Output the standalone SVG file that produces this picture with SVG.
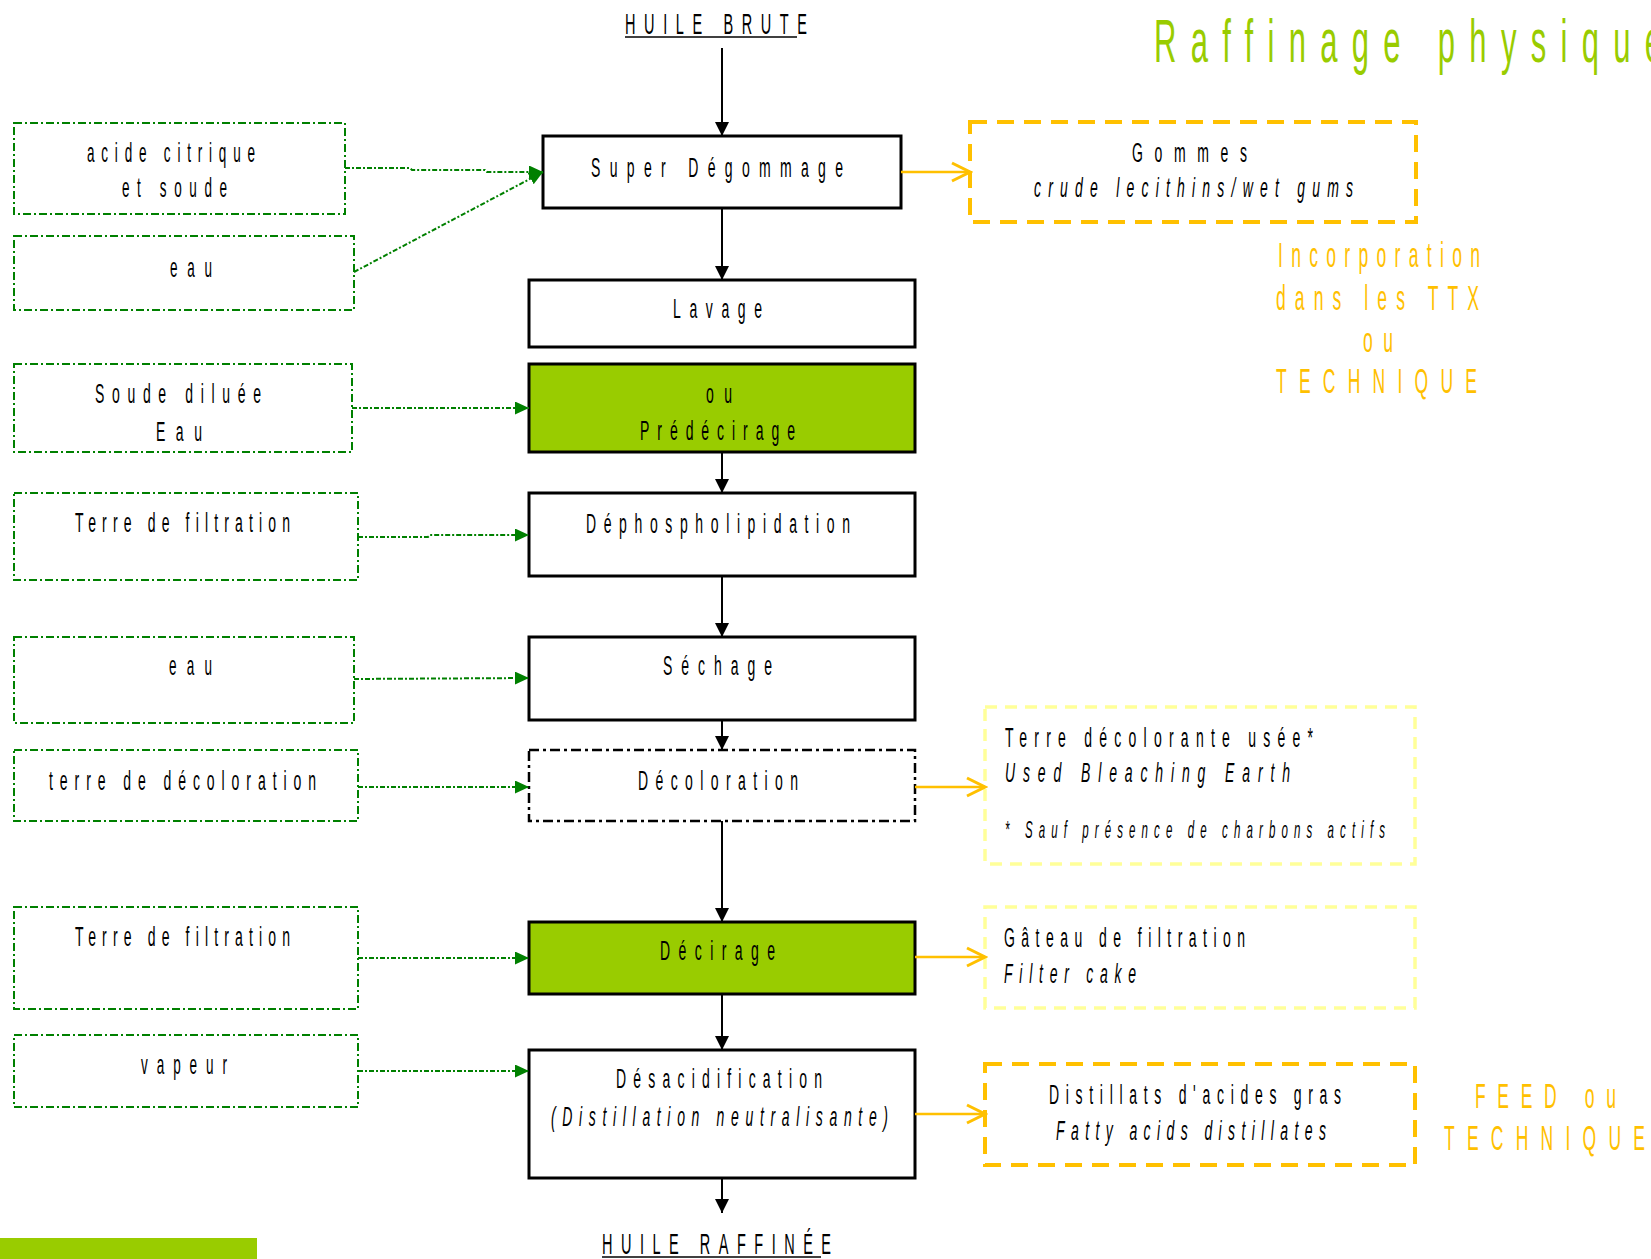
<svg xmlns="http://www.w3.org/2000/svg" width="1651" height="1259" viewBox="0 0 1651 1259">
<style>
.t{font-family:"Liberation Sans",Arial,sans-serif;fill:#000}
.i{font-style:italic}
.o{fill:#FFC000}
.box{fill:#fff;stroke:#000;stroke-width:3}
.grn{fill:#99CC00}
.dd{stroke-dasharray:10 4 3 4;stroke-width:2.5}
.inbox{fill:#fff;stroke:#008000;stroke-width:2;stroke-dasharray:8 3 2 3}
.outO{fill:#fff;stroke:#FFC000;stroke-width:4;stroke-dasharray:17 10}
.outY{fill:#fff;stroke:#FFFF99;stroke-width:3.5;stroke-dasharray:12 8}
.flow{stroke:#000;stroke-width:2;fill:none}
.feed{stroke:#008000;stroke-width:2;stroke-dasharray:5 2 2 2;fill:none}
.outl{stroke:#FFC000;stroke-width:2.5;fill:none}
.ul{stroke:#000;stroke-width:1.5}
</style>
<defs>
<marker id="ah" markerUnits="userSpaceOnUse" markerWidth="14" markerHeight="14" refX="14" refY="7" orient="auto"><path d="M0,0 L14,7 L0,14 Z" fill="#000"/></marker>
<marker id="gh" markerUnits="userSpaceOnUse" markerWidth="14" markerHeight="13" refX="14" refY="6.5" orient="auto"><path d="M0,0 L14,6.5 L0,13 Z" fill="#008000"/></marker>
<marker id="oh" markerUnits="userSpaceOnUse" markerWidth="22" markerHeight="22" refX="19" refY="11" orient="auto"><path d="M1,2 L19,11 L1,20" fill="none" stroke="#FFC000" stroke-width="3"/></marker>
</defs>

<g id="title"><text class="t" transform="translate(1154 62) scale(0.5 1)" font-size="62" style="fill:#99CC00" textLength="1016" lengthAdjust="spacing">Raffinage physique</text></g>

<g id="huile-brute"><text class="t" transform="translate(625 34) scale(0.5 1)" font-size="29" textLength="364" lengthAdjust="spacing">HUILE BRUTE</text><line class="ul" x1="625" y1="37" x2="797" y2="37"/></g>

<g id="super-degommage"><rect class="box" x="543" y="136" width="358" height="72"/><text class="t" transform="translate(591 177) scale(0.5 1)" font-size="28" textLength="504" lengthAdjust="spacing">Super Dégommage</text></g>
<g id="lavage"><rect class="box" x="529" y="280" width="386" height="67"/><text class="t" transform="translate(673 318) scale(0.5 1)" font-size="28" textLength="178" lengthAdjust="spacing">Lavage</text></g>
<g id="predecirage"><rect class="box grn" x="529" y="364" width="386" height="88"/><text class="t" transform="translate(706 403) scale(0.5 1)" font-size="28" textLength="52" lengthAdjust="spacing">ou</text><text class="t" transform="translate(640 440) scale(0.5 1)" font-size="28" textLength="310" lengthAdjust="spacing">Prédécirage</text></g>
<g id="dephospholipidation"><rect class="box" x="529" y="493" width="386" height="83"/><text class="t" transform="translate(586 533) scale(0.5 1)" font-size="28" textLength="528" lengthAdjust="spacing">Déphospholipidation</text></g>
<g id="sechage"><rect class="box" x="529" y="637" width="386" height="83"/><text class="t" transform="translate(663 675) scale(0.5 1)" font-size="28" textLength="218" lengthAdjust="spacing">Séchage</text></g>
<g id="decoloration"><rect class="box dd" x="529" y="750" width="386" height="71"/><text class="t" transform="translate(638 790) scale(0.5 1)" font-size="28" textLength="320" lengthAdjust="spacing">Décoloration</text></g>
<g id="decirage"><rect class="box grn" x="529" y="922" width="386" height="72"/><text class="t" transform="translate(660 960) scale(0.5 1)" font-size="28" textLength="230" lengthAdjust="spacing">Décirage</text></g>
<g id="desacidification"><rect class="box" x="529" y="1050" width="386" height="128"/><text class="t" transform="translate(616 1088) scale(0.5 1)" font-size="28" textLength="412" lengthAdjust="spacing">Désacidification</text><text class="t i" transform="translate(551 1126) scale(0.5 1)" font-size="28" textLength="674" lengthAdjust="spacing">(Distillation neutralisante)</text></g>
<g id="huile-raffinee"><text class="t" transform="translate(602 1254) scale(0.5 1)" font-size="29" textLength="458" lengthAdjust="spacing">HUILE RAFFINÉE</text><line class="ul" x1="602" y1="1257" x2="821" y2="1257"/></g>

<g id="in-acide"><rect class="inbox" x="14" y="123" width="331" height="91"/><text class="t" transform="translate(87 162) scale(0.5 1)" font-size="27" textLength="336" lengthAdjust="spacing">acide citrique</text><text class="t" transform="translate(122 197) scale(0.5 1)" font-size="27" textLength="210" lengthAdjust="spacing">et soude</text></g>
<g id="in-eau1"><rect class="inbox" x="14" y="236" width="340" height="74"/><text class="t" transform="translate(170 277) scale(0.5 1)" font-size="27" textLength="84" lengthAdjust="spacing">eau</text></g>
<g id="in-soude"><rect class="inbox" x="14" y="364" width="338" height="88"/><text class="t" transform="translate(95 403) scale(0.5 1)" font-size="28" textLength="332" lengthAdjust="spacing">Soude diluée</text><text class="t" transform="translate(156 441) scale(0.5 1)" font-size="28" textLength="92" lengthAdjust="spacing">Eau</text></g>
<g id="in-terre1"><rect class="inbox" x="14" y="493" width="344" height="87"/><text class="t" transform="translate(75 532) scale(0.5 1)" font-size="28" textLength="430" lengthAdjust="spacing">Terre de filtration</text></g>
<g id="in-eau2"><rect class="inbox" x="14" y="637" width="340" height="86"/><text class="t" transform="translate(169 675) scale(0.5 1)" font-size="27" textLength="86" lengthAdjust="spacing">eau</text></g>
<g id="in-terre-deco"><rect class="inbox" x="14" y="750" width="344" height="71"/><text class="t" transform="translate(49 790) scale(0.5 1)" font-size="28" textLength="534" lengthAdjust="spacing">terre de décoloration</text></g>
<g id="in-terre2"><rect class="inbox" x="14" y="907" width="344" height="102"/><text class="t" transform="translate(75 946) scale(0.5 1)" font-size="28" textLength="430" lengthAdjust="spacing">Terre de filtration</text></g>
<g id="in-vapeur"><rect class="inbox" x="14" y="1035" width="344" height="72"/><text class="t" transform="translate(141 1074) scale(0.5 1)" font-size="27" textLength="172" lengthAdjust="spacing">vapeur</text></g>

<g id="out-gommes"><rect class="outO" x="970" y="122" width="446" height="100"/><text class="t" transform="translate(1132 162) scale(0.5 1)" font-size="28" textLength="230" lengthAdjust="spacing">Gommes</text><text class="t i" transform="translate(1034 197) scale(0.5 1)" font-size="28" textLength="638" lengthAdjust="spacing">crude lecithins/wet gums</text></g>
<g id="note-ttx"><text class="t o" transform="translate(1278 267) scale(0.5 1)" font-size="35" textLength="404" lengthAdjust="spacing">Incorporation</text><text class="t o" transform="translate(1276 310) scale(0.5 1)" font-size="35" textLength="406" lengthAdjust="spacing">dans les TTX</text><text class="t o" transform="translate(1363 352) scale(0.5 1)" font-size="35" textLength="60" lengthAdjust="spacing">ou</text><text class="t o" transform="translate(1276 393) scale(0.5 1)" font-size="35" textLength="402" lengthAdjust="spacing">TECHNIQUE</text></g>
<g id="out-terre-usee"><rect class="outY" x="985" y="707" width="430" height="157"/><text class="t" transform="translate(1005 747) scale(0.5 1)" font-size="28" textLength="616" lengthAdjust="spacing">Terre décolorante usée*</text><text class="t i" transform="translate(1005 782) scale(0.5 1)" font-size="28" textLength="570" lengthAdjust="spacing">Used Bleaching Earth</text><text class="t i" transform="translate(1005 838) scale(0.5 1)" font-size="23" textLength="760" lengthAdjust="spacing">* Sauf présence de charbons actifs</text></g>
<g id="out-gateau"><rect class="outY" x="985" y="907" width="430" height="101"/><text class="t" transform="translate(1004 947) scale(0.5 1)" font-size="28" textLength="482" lengthAdjust="spacing">Gâteau de filtration</text><text class="t i" transform="translate(1004 983) scale(0.5 1)" font-size="28" textLength="264" lengthAdjust="spacing">Filter cake</text></g>
<g id="out-distillats"><rect class="outO" x="985" y="1064" width="430" height="101"/><text class="t" transform="translate(1049 1104) scale(0.5 1)" font-size="28" textLength="584" lengthAdjust="spacing">Distillats d'acides gras</text><text class="t i" transform="translate(1056 1140) scale(0.5 1)" font-size="28" textLength="540" lengthAdjust="spacing">Fatty acids distillates</text></g>
<g id="note-feed"><text class="t o" transform="translate(1475 1108) scale(0.5 1)" font-size="35" textLength="282" lengthAdjust="spacing">FEED ou</text><text class="t o" transform="translate(1444 1150) scale(0.5 1)" font-size="35" textLength="402" lengthAdjust="spacing">TECHNIQUE</text></g>

<g id="legend"><rect x="0" y="1238" width="257" height="21" fill="#99CC00"/></g>

<g id="connectors">
<path class="flow" marker-end="url(#ah)" d="M722,48 V136"/>
<path class="flow" marker-end="url(#ah)" d="M722,208 V280"/>
<path class="flow" marker-end="url(#ah)" d="M722,452 V493"/>
<path class="flow" marker-end="url(#ah)" d="M722,576 V637"/>
<path class="flow" marker-end="url(#ah)" d="M722,720 V750"/>
<path class="flow" marker-end="url(#ah)" d="M722,821 V922"/>
<path class="flow" marker-end="url(#ah)" d="M722,994 V1050"/>
<path class="flow" marker-end="url(#ah)" d="M722,1178 V1213"/>
<path class="feed" marker-end="url(#gh)" d="M345,168 L410,168 L412,170 L485,170 L487,172 L543,172"/>
<path class="feed" marker-end="url(#gh)" d="M354,272 L543,172"/>
<path class="feed" marker-end="url(#gh)" d="M352,408 L529,408"/>
<path class="feed" marker-end="url(#gh)" d="M358,537 L428,537 L430,535 L529,535"/>
<path class="feed" marker-end="url(#gh)" d="M354,679 L529,678"/>
<path class="feed" marker-end="url(#gh)" d="M358,787 L529,787"/>
<path class="feed" marker-end="url(#gh)" d="M358,958 L529,958"/>
<path class="feed" marker-end="url(#gh)" d="M358,1071 L529,1071"/>
<path class="outl" marker-end="url(#oh)" d="M901,172 L970,172"/>
<path class="outl" marker-end="url(#oh)" d="M915,787 L985,787"/>
<path class="outl" marker-end="url(#oh)" d="M915,957 L985,957"/>
<path class="outl" marker-end="url(#oh)" d="M915,1114 L985,1114"/>
</g>
</svg>
